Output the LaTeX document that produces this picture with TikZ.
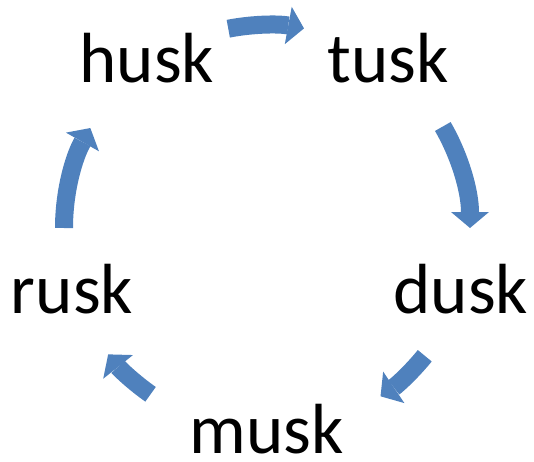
\documentclass[tikz,border=0pt]{standalone}
\usepackage{fontspec}
\setmainfont{Carlito}
\usepackage{xcolor}
\usetikzlibrary{arrows.meta}
\definecolor{cycblue}{HTML}{4F81BD}
\newcommand{\cycR}{203}

\begin{document}
\begin{tikzpicture}[
  x=1pt, y=1pt,
  every node/.style={font=\fontsize{71}{85}\selectfont, inner sep=0pt, anchor=base},
  cycarrow/.style={draw=cycblue, line width=18pt,
    -{Triangle[length=16pt, width=38pt, line width=0pt]}}
]
\useasboundingbox (0,0) rectangle (534,461);

% ── centre of the cycle ──────────────────────────────────────────────────
\coordinate (c) at (267,233);

% ── the five words ───────────────────────────────────────────────────────
\node (husk) at (147,378) {husk};
\node (tusk) at (388,378) {tusk};
\node (dusk) at (461,148) {dusk};
\node (musk) at (267,8)   {musk};
\node (rusk) at (72,148)  {rusk};

% ── curved arrows between the words (clockwise) ─────────────────────────
\draw[cycarrow] ([shift={(101:\cycR)}]c) arc[start angle=101, end angle=79.5, radius=\cycR];
\draw[cycarrow] ([shift={(30:\cycR)}]c) arc[start angle=30, end angle=0, radius=\cycR];
\draw[cycarrow] ([shift={(-39:\cycR)}]c) arc[start angle=-39, end angle=-56, radius=\cycR];
\draw[cycarrow] ([shift={(235:\cycR)}]c) arc[start angle=235, end angle=218.5, radius=\cycR];
\draw[cycarrow] ([shift={(180:\cycR)}]c) arc[start angle=180, end angle=150.5, radius=\cycR];

\end{tikzpicture}
\end{document}
